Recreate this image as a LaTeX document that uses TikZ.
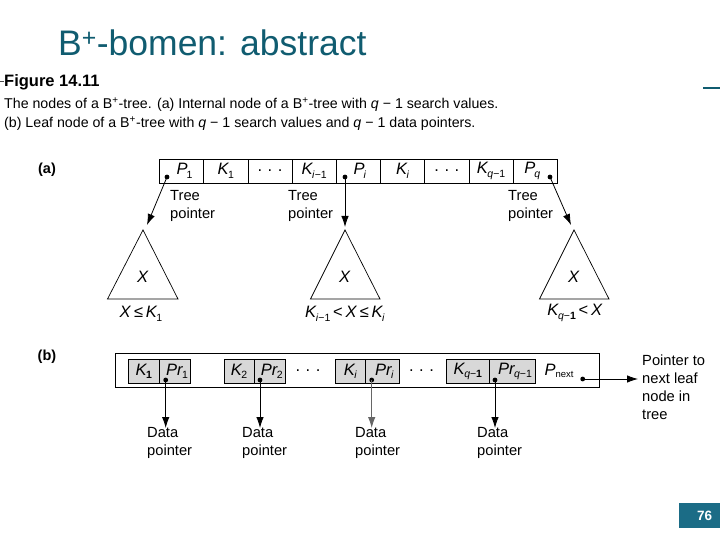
\documentclass[tikz,border=0pt]{standalone}
\usepackage{fontspec}
\setmainfont{Liberation Sans}
\usetikzlibrary{arrows.meta}
\definecolor{tealtitle}{RGB}{16,92,112}
\definecolor{tealbox}{RGB}{27,108,134}
\definecolor{cellgray}{RGB}{216,216,216}
\newcommand\vv[2]{\textit{#1}\kern-0.06em\raisebox{-0.4ex}{\fontsize{10.5}{10.5}\selectfont #2}}
\newcommand\mysub[1]{\textit{#1}}
\begin{document}
\begin{tikzpicture}[x=1pt,y=-1pt,
  font=\fontsize{14.5}{18}\selectfont,
  cell/.style={draw, line width=0.6pt, minimum height=24pt, inner sep=0pt},
  gcell/.style={draw, line width=0.6pt, fill=cellgray, minimum height=24.5pt, inner sep=0pt},
  lbl/.style={inner sep=0pt, font=\fontsize{16.5}{16.5}\selectfont},
  dotp/.style={circle, fill, inner sep=0pt, minimum size=4.8pt},
  ptr/.style={line width=0.8pt, -{Latex[length=11pt,width=7.5pt]}},
  txt/.style={align=left, inner sep=0pt, anchor=north west, font=\fontsize{14.7}{18}\selectfont},
  tri/.style={draw, line width=0.7pt},
]
\useasboundingbox (0,0) rectangle (720,540);

% title
\node[anchor=base west, inner sep=0pt, text=tealtitle, font=\fontsize{35.5}{35.5}\selectfont] (title) at (58,56) {B\textsuperscript{+}-bomen: abstract};
\coordinate (trA) at (703,88); \coordinate (trB) at (720,88);
\draw[tealtitle, line width=1.6pt] (trA) -- (trB);

% caption
\coordinate (dshA) at (0,81); \coordinate (dshB) at (4,81);
\draw[line width=0.8pt, black!70] (dshA) -- (dshB);
\node[anchor=base west, inner sep=0pt, font=\fontsize{16.5}{16.5}\selectfont\bfseries] (fig) at (4,87) {Figure 14.11};
\node[anchor=base west, inner sep=0pt, font=\fontsize{14.2}{14.2}\selectfont] (cap1) at (4,109) {The nodes of a B\textsuperscript{+}-tree. (a) Internal node of a B\textsuperscript{+}-tree with \textit{q} − 1 search values.};
\node[anchor=base west, inner sep=0pt, font=\fontsize{14.2}{14.2}\selectfont] (cap2) at (4,128) {(b) Leaf node of a B\textsuperscript{+}-tree with \textit{q} − 1 search values and \textit{q} − 1 data pointers.};

% (a)
\node[inner sep=0pt, font=\fontsize{14.5}{14.5}\selectfont\bfseries] (la) at (47,170) {(a)};
\foreach \k/\cx in {1/181.6,2/225.8,3/270.0,4/314.2,5/358.4,6/402.6,7/446.8,8/491.0,9/535.2}
  \node[cell, minimum width=44.2pt] (c\k) at (\cx,171) {};
\node[lbl] (l1) at ([xshift=3pt]c1) {\vv{P}{1}};
\node[lbl] (l2) at (c2) {\vv{K}{1}};
\node[lbl] (l3) at (c3) {.\,\,.\,\,.};
\node[lbl] (l4) at (c4) {\vv{K}{\mysub{i}−1}};
\node[lbl] (l5) at ([xshift=1.5pt]c5) {\vv{P}{\mysub{i}}};
\node[lbl] (l6) at (c6) {\vv{K}{\mysub{i}}};
\node[lbl] (l7) at (c7) {.\,\,.\,\,.};
\node[lbl] (l8) at (c8) {\vv{K}{\mysub{q}−1}};
\node[lbl] (l9) at ([xshift=-3pt]c9) {\vv{P}{\mysub{q}}};

\node[dotp] (d1) at (167,177) {};
\node[dotp] (d2) at (345,177) {};
\node[dotp] (d3) at (550,177) {};
\coordinate (t1) at (147,225);
\coordinate (t2) at (345,227);
\coordinate (t3) at (571,225);
\draw[ptr] (d1.center) -- (t1);
\draw[ptr] (d2.center) -- (t2);
\draw[ptr] (d3.center) -- (t3);

\node[txt] (tp1) at (170,190) {Tree\\pointer};
\node[txt] (tp2) at (288,190) {Tree\\pointer};
\node[txt] (tp3) at (508,190) {Tree\\pointer};

% subtrees
\coordinate (a1) at (143,230); \coordinate (b1) at (107.5,299); \coordinate (e1) at (178,299);
\coordinate (a2) at (345,230); \coordinate (b2) at (310.5,299); \coordinate (e2) at (380,299);
\coordinate (a3) at (574,230); \coordinate (b3) at (539.5,299); \coordinate (e3) at (609,299);
\draw[tri] (a1) -- (b1) -- (e1) -- cycle;
\draw[tri] (a2) -- (b2) -- (e2) -- cycle;
\draw[tri] (a3) -- (b3) -- (e3) -- cycle;
\node[lbl] (x1) at (143,277) {\textit{X}};
\node[lbl] (x2) at (345,277) {\textit{X}};
\node[lbl] (x3) at (574,277) {\textit{X}};
\node[lbl] (r1) at (141,314) {\textit{X}\,≤\,\vv{K}{1}};
\node[lbl] (r2) at (345,314) {\vv{K}{\mysub{i}−1}\,<\,\textit{X}\,≤\,\vv{K}{\mysub{i}}};
\node[lbl] (r3) at (575,313) {\vv{K}{\mysub{q}−\textbf{1}}\,<\,\textit{X}};

% (b)
\node[inner sep=0pt, font=\fontsize{14.5}{14.5}\selectfont\bfseries] (lb) at (47,357) {(b)};
\node[draw, line width=0.7pt, minimum width=484.5pt, minimum height=34.5pt, inner sep=0pt] (leaf) at (357.25,370.25) {};
\node[gcell, minimum width=31pt] (k1) at (143.8,371.25) {};
\node[gcell, minimum width=31.4pt] (q1) at (175,371.25) {};
\node[gcell, minimum width=30pt] (k2) at (239,371.25) {};
\node[gcell, minimum width=31.7pt] (q2) at (269.85,371.25) {};
\node[gcell, minimum width=30.7pt] (k3) at (350.35,371.25) {};
\node[gcell, minimum width=33.3pt] (q3) at (382.35,371.25) {};
\node[gcell, minimum width=42.3pt] (k4) at (467.85,371.25) {};
\node[gcell, minimum width=46pt] (q4) at (512,371.25) {};
\node[lbl] (m1) at (k1) {\vv{K}{\textbf{1}}};
\node[lbl] (n1) at ([xshift=2pt]q1) {\vv{Pr}{1}};
\node[lbl] (m2) at (k2) {\vv{K}{2}};
\node[lbl] (n2) at ([xshift=2pt]q2) {\vv{Pr}{2}};
\node[lbl] (m3) at (k3) {\vv{K}{\mysub{i}}};
\node[lbl] (n3) at ([xshift=2pt]q3) {\vv{Pr}{\mysub{i}}};
\node[lbl] (m4) at (k4) {\vv{K}{\mysub{q}−\textbf{1}}};
\node[lbl] (n4) at ([xshift=3pt]q4) {\vv{Pr}{\mysub{q}−1}};
\node[lbl] (el1) at (308,371) {.\,\,.\,\,.};
\node[lbl] (el2) at (421.5,371) {.\,\,.\,\,.};
\node[lbl] (pn) at (559,371) {\textit{P}\raisebox{-0.3ex}{\fontsize{9.5}{9.5}\selectfont next}};

\node[dotp] (e1d) at (165.7,380) {};
\node[dotp] (e2d) at (260,380) {};
\node[dotp] (e3d) at (371.7,380) {};
\node[dotp] (e4d) at (495,380) {};
\node[dotp] (e5d) at (582.7,379) {};
\coordinate (s1) at (165.7,428);
\coordinate (s2) at (260,428);
\coordinate (s3) at (371.7,428);
\coordinate (s4) at (495,428);
\coordinate (s5) at (638,379);
\draw[ptr] (e1d.center) -- (s1);
\draw[ptr] (e2d.center) -- (s2);
\draw[ptr, draw=black!60] (e3d.center) -- (s3);
\draw[ptr] (e4d.center) -- (s4);
\draw[ptr] (e5d.center) -- (s5);

\node[txt] (dp1) at (147,427.5) {Data\\pointer};
\node[txt] (dp2) at (242,427.5) {Data\\pointer};
\node[txt] (dp3) at (355,427.5) {Data\\pointer};
\node[txt] (dp4) at (477,427.5) {Data\\pointer};
\node[txt] (nx) at (642,355) {Pointer to\\next leaf\\node in\\tree};

% page number
\node[fill=tealbox, text=white, font=\fontsize{13.5}{13.5}\selectfont\bfseries, minimum width=41pt, minimum height=25pt, inner sep=0pt, anchor=north west] (pg) at (679,503) {\hspace*{10pt}76};
\end{tikzpicture}
\end{document}
